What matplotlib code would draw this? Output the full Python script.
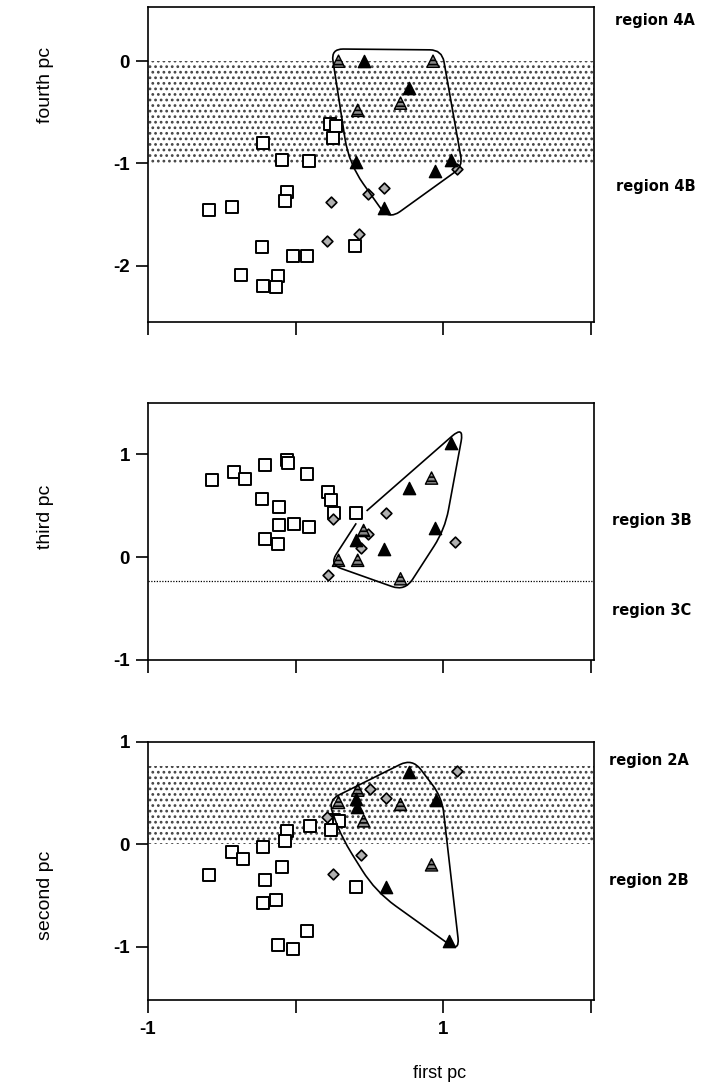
import numpy as np
import matplotlib
matplotlib.use('Agg')
import matplotlib.pyplot as plt
from matplotlib.path import Path
from matplotlib.patches import PathPatch

plt.rcParams['hatch.linewidth'] = 1.2

# ---- fourth pc vs first pc ----
sq4_x = [-0.59, -0.43, -0.22, -0.09, 0.09, 0.23, 0.27, 0.25, -0.06, -0.07,
         -0.23, -0.02, 0.08, 0.40, -0.37, -0.22, -0.12, -0.13]
sq4_y = [-1.45, -1.43, -0.80, -0.97, -0.98, -0.61, -0.63, -0.75, -1.28, -1.37,
         -1.82, -1.90, -1.90, -1.81, -2.09, -2.20, -2.10, -2.21]
dm4_x = [0.24, 0.21, 0.43, 0.49, 0.60, 1.09]
dm4_y = [-1.38, -1.76, -1.69, -1.30, -1.24, -1.05]
ht4_x = [0.29, 0.93, 0.42, 0.71]
ht4_y = [0.00, 0.00, -0.48, -0.41]
bt4_x = [0.46, 0.77, 0.41, 0.94, 1.05, 0.60]
bt4_y = [0.00, -0.26, -0.99, -1.07, -0.97, -1.44]
hull4_x = [0.24, 0.99, 1.13, 0.63, 0.36]
hull4_y = [0.12, 0.11, -1.03, -1.55, -1.00]
hull4_r = [12, 12, 10, 14, 25]

# ---- third pc vs first pc ----
sq3_x = [-0.57, -0.42, -0.34, -0.21, -0.06, -0.05, 0.08, -0.23, -0.11, 0.22,
         0.24, 0.26, 0.41, -0.11, -0.01, 0.09, -0.21, -0.12]
sq3_y = [0.75, 0.83, 0.76, 0.90, 0.95, 0.92, 0.81, 0.57, 0.49, 0.63,
         0.56, 0.43, 0.43, 0.31, 0.32, 0.29, 0.18, 0.13]
dm3_x = [0.25, 0.61, 0.49, 0.44, 0.22, 1.08]
dm3_y = [0.37, 0.43, 0.23, 0.09, -0.17, 0.15]
ht3_x = [0.92, 0.46, 0.29, 0.42, 0.71]
ht3_y = [0.77, 0.26, -0.03, -0.03, -0.21]
bt3_x = [1.05, 0.77, 0.94, 0.41, 0.60]
bt3_y = [1.11, 0.67, 0.28, 0.17, 0.08]
hull3_x = [0.41, 0.23, 0.74, 1.01, 1.14, 0.48]
hull3_y = [0.33, -0.07, -0.33, 0.27, 1.28, 0.45]
hull3_r = [0, 12, 14, 20, 16, 0]
cut3 = -0.235

# ---- second pc vs first pc ----
sq2_x = [-0.06, -0.07, 0.10, 0.26, 0.29, 0.24, -0.43, -0.36, -0.22, -0.09,
         -0.59, -0.21, -0.22, -0.13, 0.41, 0.08, -0.12, -0.02]
sq2_y = [0.13, 0.03, 0.18, 0.24, 0.23, 0.14, -0.07, -0.14, -0.03, -0.22,
         -0.30, -0.35, -0.57, -0.54, -0.42, -0.85, -0.98, -1.02]
dm2_x = [1.09, 0.50, 0.61, 0.21, 0.44, 0.25]
dm2_y = [0.72, 0.54, 0.45, 0.27, -0.10, -0.29]
ht2_x = [0.42, 0.29, 0.46, 0.71, 0.92]
ht2_y = [0.53, 0.41, 0.23, 0.39, -0.20]
bt2_x = [0.41, 0.415, 0.77, 0.95, 0.61, 1.04]
bt2_y = [0.44, 0.37, 0.71, 0.43, -0.42, -0.94]
hull2_x = [0.31, 0.22, 0.79, 0.99, 1.11, 0.54]
hull2_y = [0.07, 0.43, 0.84, 0.46, -1.05, -0.46]
hull2_r = [20, 12, 14, 15, 14, 25]

xlabel = 'first pc'
ylabels = ['fourth pc', 'third pc', 'second pc']
regions = ['region 4A', 'region 4B', 'region 3B', 'region 3C', 'region 2A', 'region 2B']


def rounded(xs, ys, radii, closed):
    sx, sy = 148.0, 102.5
    pts = np.column_stack([np.array(xs) * sx, np.array(ys) * sy])
    n = len(pts)
    verts, codes = [], []
    for i in range(n):
        if not closed and (i == 0 or i == n - 1):
            verts.append(pts[i])
            codes.append(Path.MOVETO if i == 0 else Path.LINETO)
            continue
        p, v, q = pts[i - 1], pts[i], pts[(i + 1) % n]
        r = radii[i]
        a = v + (p - v) * min(r / np.linalg.norm(p - v), 0.45)
        b = v + (q - v) * min(r / np.linalg.norm(q - v), 0.45)
        verts += [a, v, b]
        codes += [Path.LINETO, Path.CURVE3, Path.CURVE3]
    if closed:
        codes[0] = Path.MOVETO
        verts.append(verts[0])
        codes.append(Path.LINETO)
    verts = np.array(verts) / [sx, sy]
    return Path(verts, codes)


def draw_points(ax, sx, sy, dx, dy, hx, hy, bx, by):
    ax.scatter(sx, sy, marker='s', s=76, facecolor='white', edgecolor='black',
               linewidth=1.4, zorder=3)
    ax.scatter(dx, dy, marker='D', s=30, facecolor='#b0b0b0', edgecolor='black',
               linewidth=1.2, zorder=4)
    ax.scatter(hx, hy, marker='^', s=78, facecolor='#8a8a8a', edgecolor='black',
               linewidth=1.0, hatch='----', zorder=4)
    ax.scatter(bx, by, marker='^', s=78, facecolor='black', edgecolor='black',
               linewidth=1.0, zorder=4)


W, H = 718, 1088
fig = plt.figure(figsize=(W / 100, H / 100), dpi=100)
boxes = [(7, 322), (403, 660), (742, 1000)]
ylims = [(-2.55, 0.53), (-1.0, 1.5), (-1.52, 1.0)]
yticks = [[-2, -1, 0], [-1, 0, 1], [-1, 0, 1]]
axes = []
for (top, bot), yl, yt in zip(boxes, ylims, yticks):
    ax = fig.add_axes([148 / W, (H - bot) / H, 446 / W, (bot - top) / H])
    ax.set_xlim(-1, 2.02)
    ax.set_ylim(*yl)
    ax.set_yticks(yt)
    ax.set_yticklabels([str(v) for v in yt], fontsize=13.5, fontweight='bold',
                       family=['Liberation Sans', 'DejaVu Sans'])
    ax.set_xticks([-1, 0, 1, 2])
    ax.set_xticklabels([])
    ax.tick_params(direction='out', length=9, width=1.2, pad=4)
    for sp in ax.spines.values():
        sp.set_linewidth(1.2)
    axes.append(ax)

ax1, ax2, ax3 = axes

# panel 1
ax1.axhspan(-1.0, 0.0, facecolor='white', edgecolor='#444444', hatch='...',
            linewidth=0, zorder=1)
draw_points(ax1, sq4_x, sq4_y, dm4_x, dm4_y, ht4_x, ht4_y, bt4_x, bt4_y)
ax1.add_patch(PathPatch(rounded(hull4_x, hull4_y, hull4_r, True), fill=False,
                        edgecolor='black', linewidth=1.2, zorder=5))

# panel 2
ax2.axhline(cut3, color='black', linewidth=0.9, linestyle=(0, (1, 1.2)), zorder=1)
draw_points(ax2, sq3_x, sq3_y, dm3_x, dm3_y, ht3_x, ht3_y, bt3_x, bt3_y)
ax2.add_patch(PathPatch(rounded(hull3_x, hull3_y, hull3_r, False), fill=False,
                        edgecolor='black', linewidth=1.2, zorder=5))

# panel 3
ax3.axhspan(0.0, 0.77, facecolor='white', edgecolor='#444444', hatch='...',
            linewidth=0, zorder=1)
draw_points(ax3, sq2_x, sq2_y, dm2_x, dm2_y, ht2_x, ht2_y, bt2_x, bt2_y)
ax3.add_patch(PathPatch(rounded(hull2_x, hull2_y, hull2_r, True), fill=False,
                        edgecolor='black', linewidth=1.2, zorder=5))
ax3.set_xticklabels(['-1', '', '1', ''], fontsize=13.5, fontweight='bold',
                    family=['Liberation Sans', 'DejaVu Sans'])
ax3.tick_params(axis='x', pad=6)

# labels
narrow = ['Liberation Sans Narrow', 'Liberation Sans', 'DejaVu Sans']
for lab, ycen in zip(ylabels, [85, 517, 895]):
    fig.text(45 / W, 1 - ycen / H, lab, rotation=90, ha='center', va='center',
             fontsize=14, family=narrow)
fig.text(440 / W, 1 - 1073 / H, xlabel, ha='center', va='center', fontsize=13,
         family=['Liberation Sans', 'DejaVu Sans'])

reg_px = [(615, 20), (616, 187), (612, 520), (612, 610), (609, 760), (609, 880)]
for name, (px, py) in zip(regions, reg_px):
    fig.text(px / W, 1 - py / H, name, ha='left', va='center', fontsize=10.5,
             fontweight='bold', family=['DejaVu Sans'])

fig.savefig('out.png', dpi=100)
